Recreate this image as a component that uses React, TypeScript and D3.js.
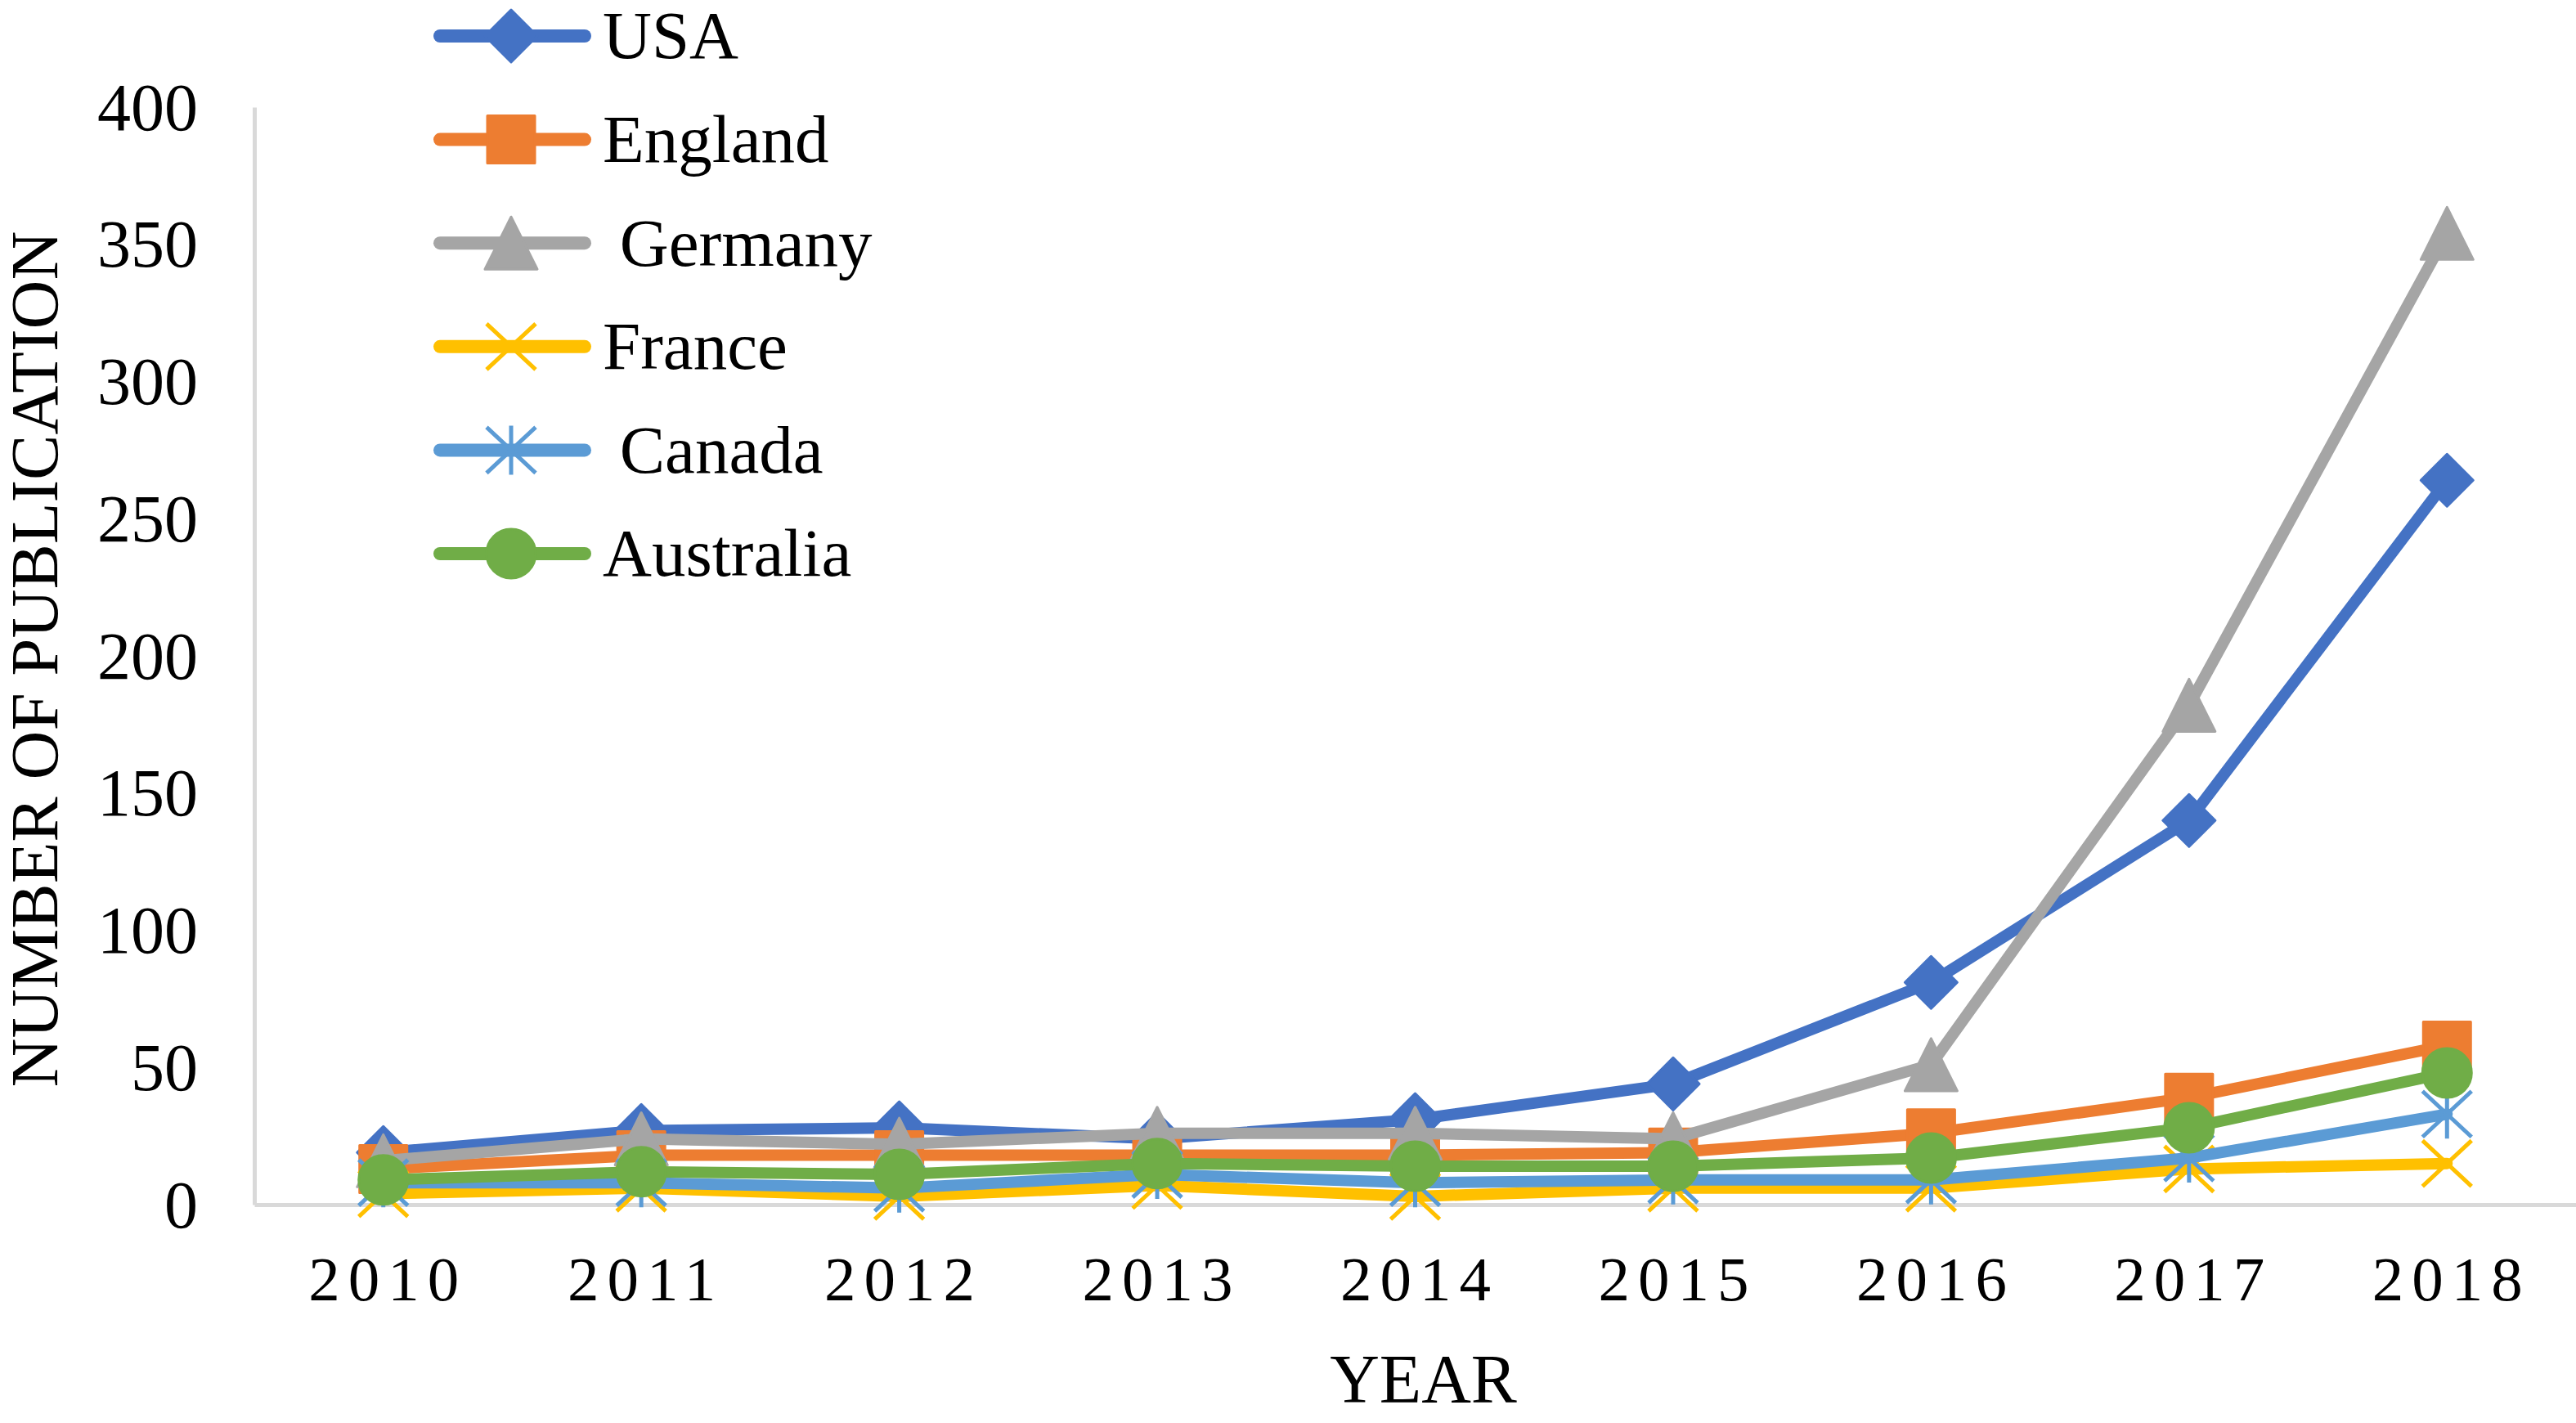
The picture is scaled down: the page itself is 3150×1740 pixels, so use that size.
import { useRef, useEffect } from 'react';
import * as d3 from 'd3';

// Chart data
const years = ["2010", "2011", "2012", "2013", "2014", "2015", "2016", "2017", "2018"];
const usa = [19, 27, 28, 24, 31, 44, 81, 140, 264];
const england = [13, 18, 18, 18, 18, 19, 26, 39, 58];
const germany = [16, 24, 22, 26, 26, 24, 51, 182, 354];
const france = [4, 6, 3, 7, 3, 6, 6, 13, 15];
const canada = [8, 8, 6, 11, 8, 9, 9, 17, 33];
const australia = [9, 12, 11, 15, 14, 14, 17, 28, 48];
const yTicks = [0, 50, 100, 150, 200, 250, 300, 350, 400];

const seriesNames = ["USA", "England", " Germany", "France", " Canada", "Australia"];
const seriesValues = [usa, england, germany, france, canada, australia];
const seriesColors = ["#4472C4", "#ED7D31", "#A5A5A5", "#FFC000", "#5B9BD5", "#70AD47"];
const seriesMarkers = ["diamond", "square", "triangle", "x", "star", "circle"];

const FONT = "'Liberation Serif', 'Times New Roman', serif";

// marker shape as a path centred on 0,0
function markerPath(kind: string) {
  switch (kind) {
    case "diamond":
      return "M0,-32L32,0L0,32L-32,0Z";
    case "square":
      return "M-29,-29H29V29H-29Z";
    case "triangle":
      return "M0,-32L32,32H-32Z";
    case "x":
      return "M-30,-28L30,28M-30,28L30,-28";
    case "star":
      return "M-30,-28L30,28M-30,28L30,-28M0,-30V30";
    default:
      return d3.symbol(d3.symbolCircle, Math.PI * 30 * 30)()!;
  }
}

function isStroked(kind: string) {
  return kind === "x" || kind === "star";
}

export default function App() {
  const svgRef = useRef<SVGSVGElement>(null);

  useEffect(() => {
    document.body.style.margin = "0";
    if (!svgRef.current) return;

    const width = 3150;
    const height = 1740;
    const margin = { top: 131, right: 0, bottom: 267, left: 311 };

    const svg = d3.select(svgRef.current)
      .attr('width', width)
      .attr('height', height);

    svg.selectAll("*").remove();

    svg.append("rect")
      .attr("width", width)
      .attr("height", height)
      .attr("fill", "#fff");

    const x = d3.scalePoint()
      .domain(years)
      .range([margin.left, width - margin.right])
      .padding(0.5);

    const y = d3.scaleLinear()
      .domain([0, 400])
      .range([height - margin.bottom, margin.top]);

    // Axes
    const yAxis = svg.append("g")
      .attr("transform", `translate(${margin.left},0)`)
      .call(d3.axisLeft(y).tickValues(yTicks).tickSize(0).tickPadding(69));
    yAxis.select(".domain").attr("stroke", "#D9D9D9").attr("stroke-width", 5);
    yAxis.selectAll("text")
      .attr("font-family", FONT)
      .attr("font-size", 82)
      .attr("fill", "#000")
      .attr("dy", "0.33em");

    const xAxis = svg.append("g")
      .attr("transform", `translate(0,${height - margin.bottom})`)
      .call(d3.axisBottom(x).tickSize(0).tickPadding(62));
    xAxis.select(".domain").attr("stroke", "#D9D9D9").attr("stroke-width", 5);
    xAxis.selectAll("text")
      .attr("font-family", FONT)
      .attr("font-size", 77)
      .attr("fill", "#000")
      .attr("letter-spacing", 10)
      .attr("dx", 5);

    // Axis titles
    svg.append("text")
      .attr("x", (margin.left + width - margin.right) / 2 + 10)
      .attr("y", 1715)
      .attr("text-anchor", "middle")
      .attr("font-family", FONT)
      .attr("font-size", 84)
      .text("YEAR");

    svg.append("text")
      .attr("transform", `translate(70,${(margin.top + height - margin.bottom) / 2 + 4}) rotate(-90)`)
      .attr("text-anchor", "middle")
      .attr("font-family", FONT)
      .attr("font-size", 83)
      .text("NUMBER OF PUBLICATION");

    // Series: line then markers, in series order
    const line = d3.line<number>()
      .x((_, i) => x(years[i])!)
      .y(d => y(d));

    seriesValues.forEach((values, s) => {
      const color = seriesColors[s];
      const kind = seriesMarkers[s];
      const g = svg.append("g");

      g.append("path")
        .datum(values)
        .attr("fill", "none")
        .attr("stroke", color)
        .attr("stroke-width", 14)
        .attr("stroke-linejoin", "round")
        .attr("stroke-linecap", "round")
        .attr("d", line);

      g.selectAll(".marker")
        .data(values)
        .join("path")
        .attr("class", "marker")
        .attr("transform", (d, i) => `translate(${x(years[i])},${y(d)})`)
        .attr("d", markerPath(kind))
        .attr("fill", isStroked(kind) ? "none" : color)
        .attr("stroke", color)
        .attr("stroke-width", isStroked(kind) ? 5 : 3)
        .attr("stroke-linejoin", "round");
    });

    // Legend
    const legendTop = 44;
    const legendStep = 126.6;
    const legend = svg.append("g");
    seriesNames.forEach((name, s) => {
      const cy = legendTop + s * legendStep;
      const kind = seriesMarkers[s];
      const color = seriesColors[s];
      legend.append("line")
        .attr("x1", 538)
        .attr("x2", 715)
        .attr("y1", cy)
        .attr("y2", cy)
        .attr("stroke", color)
        .attr("stroke-width", 16)
        .attr("stroke-linecap", "round");
      legend.append("path")
        .attr("transform", `translate(625,${cy})`)
        .attr("d", markerPath(kind))
        .attr("fill", isStroked(kind) ? "none" : color)
        .attr("stroke", color)
        .attr("stroke-width", isStroked(kind) ? 5 : 3)
        .attr("stroke-linejoin", "round");
      legend.append("text")
        .attr("x", 737)
        .attr("y", cy)
        .attr("dy", "0.33em")
        .attr("font-family", FONT)
        .attr("font-size", 83)
        .style("white-space", "pre")
        .text(name);
    });
  }, []);

  return (
    <div>
      <svg ref={svgRef} style={{ display: "block" }}></svg>
    </div>
  );
}
